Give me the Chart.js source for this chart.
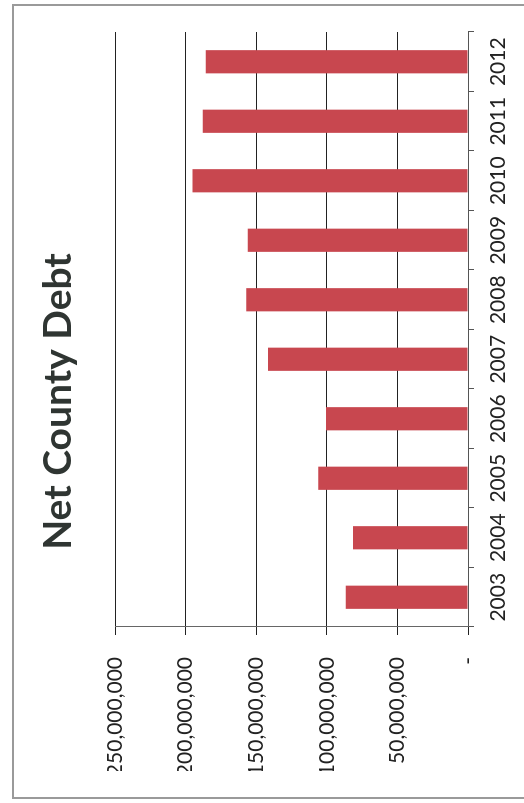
<!DOCTYPE html>
<html>
<head>
<meta charset="utf-8">
<title>Net County Debt</title>
<script src="https://cdn.jsdelivr.net/npm/chart.js"></script>
<style>
  html, body { margin: 0; padding: 0; background: #fff; overflow: hidden; }
  /* the scanned chart is turned on its side, so draw it landscape and rotate */
  #page {
    position: absolute; left: 0; top: 0; width: 803px; height: 524px;
    transform-origin: 0 0; transform: translate(0, 803px) rotate(-90deg);
  }
  #frame {
    position: absolute; left: 4px; top: 12px; width: 795px; height: 512px;
    border: 2px solid #9a9a9a; border-bottom: none; box-sizing: border-box;
  }
  canvas { position: absolute; left: 0; top: 0; }
</style>
</head>
<body>
<div id="page">
  <div id="frame"></div>
  <canvas id="chart" width="803" height="524" style="width:803px;height:524px"></canvas>
</div>
<script>
const years = ["2003", "2004", "2005", "2006", "2007", "2008", "2009", "2010", "2011", "2012"];
const netDebt = [86600000, 81400000, 106000000, 100600000, 141600000, 157000000, 156000000, 195200000, 187900000, 185800000];
const valueMax = 250000000;
const valueStep = 50000000;

new Chart(document.getElementById("chart").getContext("2d"), {
  type: "bar",
  data: {
    labels: years,
    datasets: [{
      label: "Net County Debt",
      data: netDebt,
      backgroundColor: "#c8474f",
      borderWidth: 0,
      barPercentage: 0.39,
      categoryPercentage: 1
    }]
  },
  options: {
    responsive: false,
    animation: false,
    // equal side padding keeps the title centred on the whole page
    layout: { padding: { left: 32, right: 32, top: 0, bottom: 0 } },
    plugins: {
      legend: { display: false },
      tooltip: { enabled: false },
      title: {
        display: true,
        text: "Net County Debt",
        color: "#2f3532",
        font: { family: "Lato", size: 39, weight: "bold", lineHeight: 1.2 },
        padding: { top: 35, bottom: 33.2 }
      }
    },
    scales: {
      x: {
        afterFit: s => { s.height = 56; },
        grid: { drawOnChartArea: false, offset: true, tickLength: 6, color: "#555" },
        border: { color: "#555", width: 1 },
        ticks: { color: "#222", font: { family: "Lato", size: 21 }, padding: 12, maxRotation: 0 }
      },
      y: {
        min: 0,
        max: valueMax,
        afterFit: s => { s.width = 144; },
        grid: { color: "#222", lineWidth: 1, tickLength: 8 },
        border: { color: "#666", width: 1 },
        ticks: {
          stepSize: valueStep,
          color: "#222",
          font: { family: "Lato", size: 21 },
          padding: 22,
          callback: v => v === 0 ? "-" : v.toLocaleString("en-US")
        }
      }
    }
  }
});
</script>
</body>
</html>
